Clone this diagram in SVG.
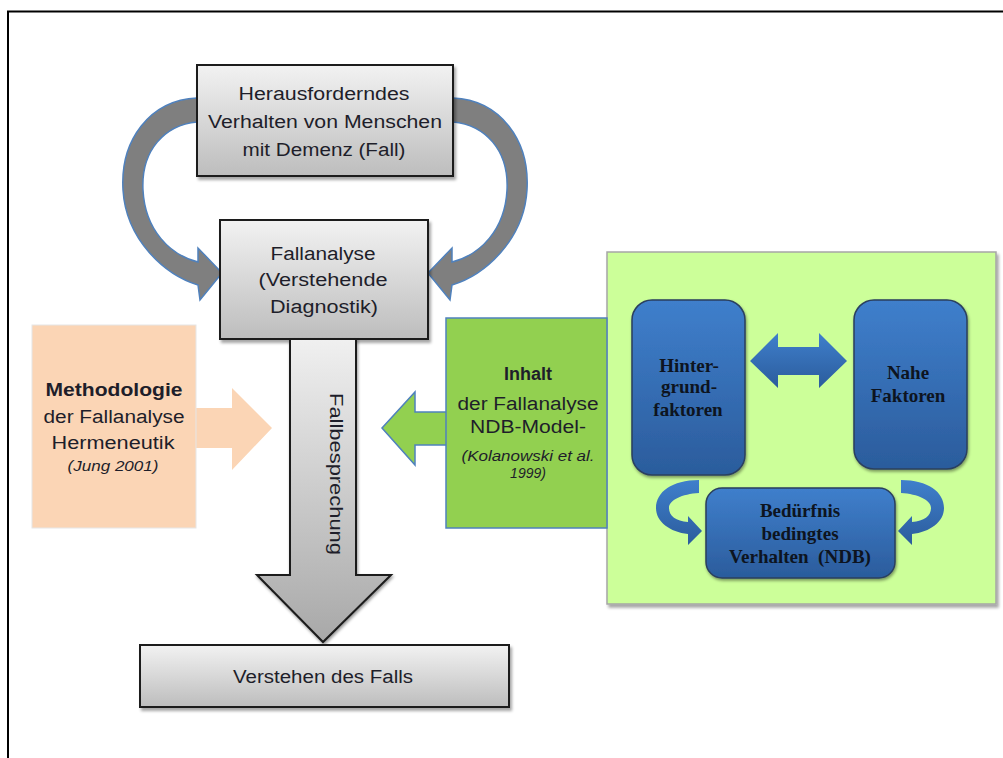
<svg xmlns="http://www.w3.org/2000/svg" width="1003" height="758" viewBox="0 0 1003 758">
<defs>
<linearGradient id="gGray" x1="0" y1="0" x2="0" y2="1">
<stop offset="0" stop-color="#f2f2f2"/><stop offset="1" stop-color="#bdbdbd"/>
</linearGradient>
<linearGradient id="gDown" x1="0" y1="0" x2="0" y2="1">
<stop offset="0" stop-color="#f0f0f0"/><stop offset="1" stop-color="#a8a8a8"/>
</linearGradient>
<linearGradient id="gBlue" x1="0" y1="0" x2="0" y2="1">
<stop offset="0" stop-color="#3f7fcc"/><stop offset="1" stop-color="#2b5c9c"/>
</linearGradient>
<filter id="sh" x="-10%" y="-10%" width="125%" height="130%">
<feDropShadow dx="2" dy="3" stdDeviation="1.5" flood-color="#000" flood-opacity="0.35"/>
</filter>
<filter id="shb" x="-10%" y="-10%" width="125%" height="130%">
<feDropShadow dx="1" dy="2" stdDeviation="1.5" flood-color="#000" flood-opacity="0.4"/>
</filter>
</defs>
<style>
.gbox{fill:url(#gGray);stroke:#1a1a1a;stroke-width:2;filter:url(#sh)}
.t{font-family:"Liberation Sans",Arial,sans-serif;font-size:18px;fill:#1e1e2a;text-anchor:middle}
.b{font-weight:bold}
.i{font-style:italic;font-size:14px}
.s{font-family:"Liberation Serif","Times New Roman",serif;font-weight:bold;font-size:19px;fill:#0d1420;text-anchor:middle}
.garrow{fill:#7f7f7f;stroke:#4f81bd;stroke-width:1.5}
.barrow{fill:url(#gBlue);stroke:none}
.bbox{fill:url(#gBlue);stroke:#2a3f5e;stroke-width:1.5;filter:url(#shb)}
</style>
<rect x="0" y="0" width="1003" height="758" fill="#fff"/>
<g id="frame" fill="none" stroke="#000" stroke-width="2">
<line x1="7" y1="11.5" x2="1003" y2="11.5"/>
<line x1="8" y1="11" x2="8" y2="758"/>
</g>

<g id="n-green-container">
<rect x="607" y="252" width="389" height="352" fill="#ccff99" stroke="#a6a6a6" stroke-width="1.5" filter="url(#sh)"/>
</g>

<g id="connectors">
<path class="garrow" d="M197,98 C150,100 120,140 123,190 C126,240 165,275 198,285 L200,300 L222,273 L198,248 L198,262 C170,255 145,230 143,190 C141,150 165,125 197,122 Z"/>
<path class="garrow" d="M453,98 C500,100 530,140 527,190 C524,240 485,275 452,285 L450,300 L428,273 L452,248 L452,262 C480,255 505,230 507,190 C509,150 485,125 453,122 Z"/>
<polygon fill="#fbd5b5" points="196,408 232,408 232,388 272,428 232,470 232,448 196,448"/>
<polygon fill="#92d050" stroke="#4f81bd" stroke-width="1.5" points="447,412 415,412 415,392 382,428 415,465 415,445 447,445"/>
<polygon class="barrow" points="750,361 778,333 778,347 819,347 819,333 847,361 819,388 819,375 778,375 778,388"/>
<path class="barrow" d="M699,480 L699,493 C682,494 669,500 669,508 C669,516 676,521 688,522 L688,516 L702,531 L688,545 L688,534 C670,532 656,522 656,508 C656,492 672,480 699,480 Z"/>
<path class="barrow" d="M901,480 L901,493 C918,494 931,500 931,508 C931,516 924,521 912,522 L912,516 L898,531 L912,545 L912,534 C930,532 944,522 944,508 C944,492 928,480 901,480 Z"/>
</g>

<g id="n-inhalt">
<rect x="446" y="318" width="161" height="210" fill="#92d050" stroke="#4f81bd" stroke-width="1.5"/>
<text class="t b" x="528" y="380">Inhalt</text>
<text class="t" x="528" y="410" textLength="141" lengthAdjust="spacingAndGlyphs">der Fallanalyse</text>
<text class="t" x="528" y="433" textLength="116" lengthAdjust="spacingAndGlyphs">NDB-Model-</text>
<text class="t i" x="528" y="461" textLength="133" lengthAdjust="spacingAndGlyphs">(Kolanowski et al.</text>
<text class="t i" x="528" y="478">1999)</text>
</g>

<g id="n-hinter">
<rect class="bbox" x="632" y="300" width="113" height="175" rx="20"/>
<text class="s" x="689" y="372">Hinter-</text>
<text class="s" x="689" y="393">grund-</text>
<text class="s" x="688" y="416">faktoren</text>
</g>

<g id="n-nahe">
<rect class="bbox" x="854" y="300" width="113" height="169" rx="20"/>
<text class="s" x="908" y="379">Nahe</text>
<text class="s" x="908" y="402">Faktoren</text>
</g>

<g id="n-ndb">
<rect class="bbox" x="706" y="488" width="189" height="90" rx="16"/>
<text class="s" x="800" y="517">Bedürfnis</text>
<text class="s" x="800" y="540">bedingtes</text>
<text class="s" x="800" y="563" xml:space="preserve">Verhalten  (NDB)</text>
</g>

<g id="n-top">
<rect class="gbox" x="197" y="65" width="256" height="111"/>
<text class="t" x="324" y="100" textLength="171" lengthAdjust="spacingAndGlyphs">Herausforderndes</text>
<text class="t" x="325" y="128" textLength="234" lengthAdjust="spacingAndGlyphs">Verhalten von Menschen</text>
<text class="t" x="324" y="156" textLength="163" lengthAdjust="spacingAndGlyphs">mit Demenz (Fall)</text>
</g>

<g id="n-fallanalyse">
<rect class="gbox" x="220" y="220" width="208" height="119"/>
<text class="t" x="323" y="260" textLength="105" lengthAdjust="spacingAndGlyphs">Fallanalyse</text>
<text class="t" x="323" y="286" textLength="129" lengthAdjust="spacingAndGlyphs">(Verstehende</text>
<text class="t" x="324" y="313" textLength="108" lengthAdjust="spacingAndGlyphs">Diagnostik)</text>
</g>

<g id="n-fallbesprechung">
<polygon points="290,339 356,339 356,575 391,575 323,642 257,575 290,575" fill="url(#gDown)" stroke="#1a1a1a" stroke-width="2" stroke-linejoin="miter" filter="url(#shb)"/>
<text class="t" transform="translate(330,474) rotate(90)" x="0" y="0" textLength="162" lengthAdjust="spacingAndGlyphs">Fallbesprechung</text>
</g>

<g id="n-methodologie">
<rect x="32" y="325" width="164" height="203" fill="#fbd5b5" stroke="#e6e6e6" stroke-width="1"/>
<text class="t b" x="114" y="396" font-size="19" textLength="137" lengthAdjust="spacingAndGlyphs">Methodologie</text>
<text class="t" x="114" y="423" textLength="141" lengthAdjust="spacingAndGlyphs">der Fallanalyse</text>
<text class="t" x="113" y="449" textLength="123" lengthAdjust="spacingAndGlyphs">Hermeneutik</text>
<text class="t i" x="113" y="471" textLength="91" lengthAdjust="spacingAndGlyphs">(Jung 2001)</text>
</g>

<g id="n-verstehen">
<rect class="gbox" x="140" y="645" width="369" height="62"/>
<text class="t" x="323" y="683" textLength="180" lengthAdjust="spacingAndGlyphs">Verstehen des Falls</text>
</g>
</svg>
